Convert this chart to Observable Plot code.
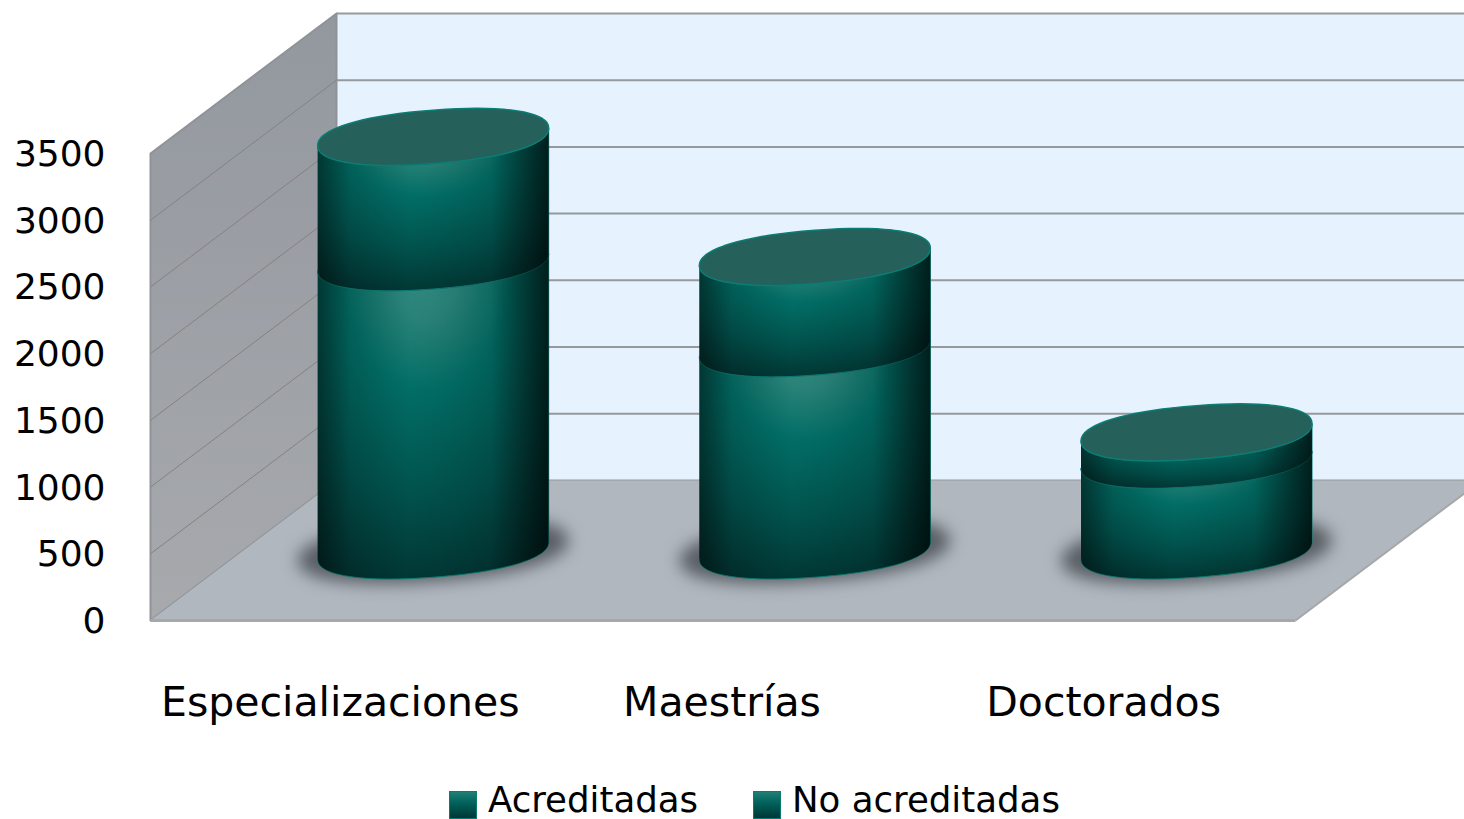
<!DOCTYPE html>
<html lang="es">
<head>
<meta charset="utf-8">
<script src="https://cdn.jsdelivr.net/npm/d3@7"></script>
<script src="https://cdn.jsdelivr.net/npm/@observablehq/plot@0.6"></script>
<style>
html,body{margin:0;padding:0;background:#fff;overflow:hidden;width:1464px;height:819px;}
svg{display:block;}
#legend{position:relative;height:49px;font-family:"DejaVu Sans",sans-serif;font-size:35.6px;color:#000;}
#legend span{position:absolute;white-space:nowrap;line-height:40px;top:10px;}
#legend i{position:absolute;top:21px;width:26px;height:26px;border:1px solid #0b7a72;background:linear-gradient(#1f8076,#00605a 45%,#013633);}
</style>
</head>
<body>
<div id="chart"></div>
<div id="legend"></div>
<script>
const categories = ["Especializaciones", "Maestrías", "Doctorados"];
const acreditadas = [2160, 1515, 680];
const noAcreditadas = [940, 685, 205];
const seriesNames = ["Acreditadas", "No acreditadas"];
const yTicks = [0, 500, 1000, 1500, 2000, 2500, 3000, 3500];

// Oblique projection: one unit of depth moves a point right and up, in data units
const depthX = 186 / 381.67, depthY = 140 / 0.1334;
const proj = (x, v, d) => ({x: x + d * depthX, y: v + d * depthY});

const ringX = 0.3026, ringTilt = 65, ringOpen = 200, round = 0.9;
const sp = (a) => Math.sign(a) * Math.abs(a) ** round;
const ring = (i, v, t, k = 1) => {
  const c = proj(i + 0.497, v, 0.5);
  const u = sp(Math.cos(t)), w = sp(Math.sin(t));
  return {x: c.x + k * ringX * u, y: c.y + k * (ringTilt * u + ringOpen * w)};
};
const steps = d3.range(0, 73);
const ellipse = (i, v, k, id) => steps.map((s) => ({...ring(i, v, (s / 72) * 2 * Math.PI, k), id}));
const side = (i, v0, v1, id) => [
  ...steps.map((s) => ({...ring(i, v0, Math.PI + (s / 72) * Math.PI), id})),
  ...steps.slice().reverse().map((s) => ({...ring(i, v1, Math.PI + (s / 72) * Math.PI), id}))
];

const shadows = categories.flatMap((c, i) => ellipse(i, 0, 1.17, "s" + i));
const sides = categories.flatMap((c, i) => [
  side(i, 0, acreditadas[i], "a" + i),
  side(i, acreditadas[i], acreditadas[i] + noAcreditadas[i], "b" + i)
]).flat();
const tops = categories.flatMap((c, i) => ellipse(i, acreditadas[i] + noAcreditadas[i], 1, "t" + i));

const poly = (pts) => pts.map((p) => proj(...p));
const leftWall = poly([[0, 0, 0], [0, 3500, 0], [0, 3500, 1], [0, 0, 1]]);
const backWall = poly([[0, 0, 1], [0, 3500, 1], [4, 3500, 1], [4, 0, 1]]);
const floor = poly([[0, 0, 0], [0, 0, 1], [3, 0, 1], [3, 0, 0]]);

const font = {fontFamily: "DejaVu Sans", fill: "#000"};

const chart = Plot.plot({
  width: 1464, height: 770,
  marginLeft: 150, marginRight: 169, marginTop: 153, marginBottom: 150,
  style: {background: "#fff", overflow: "hidden"},
  x: {domain: [0, 3], axis: null},
  y: {domain: [0, 3500], axis: null},
  marks: [
    Plot.line(backWall, {x: "x", y: "y", fill: "#e6f3fe", stroke: "none"}),
    Plot.link(yTicks, {
      x1: () => proj(0, 0, 1).x, x2: () => 4,
      y1: (v) => proj(0, v, 1).y, y2: (v) => proj(0, v, 1).y,
      stroke: "#96999c", strokeWidth: 2
    }),
    Plot.line(leftWall, {x: "x", y: "y", fill: "url(#wall)", stroke: "#8f9398", strokeWidth: 2, curve: "linear-closed"}),
    Plot.link(yTicks.slice(1, -1), {
      x1: () => 0, y1: (v) => v,
      x2: () => proj(0, 0, 1).x, y2: (v) => proj(0, v, 1).y,
      stroke: "#84827f", strokeWidth: 1
    }),
    Plot.line(floor, {x: "x", y: "y", fill: "#b0b7bf", stroke: "none"}),
    Plot.link([0], {
      x1: () => 0, y1: () => 0, x2: () => 3, y2: () => 0,
      stroke: "#a5a7a9", strokeWidth: 3
    }),
    Plot.link([0], {
      x1: () => 3, y1: () => 0, x2: () => proj(3, 0, 1).x, y2: () => proj(3, 0, 1).y,
      stroke: "#a5a7a9", strokeWidth: 2
    }),
    Plot.line(shadows, {x: "x", y: "y", z: "id", fill: "#44484d", fillOpacity: 0.8, stroke: "none", imageFilter: "blur(8px)"}),
    Plot.line(sides, {x: "x", y: "y", z: "id", fill: "url(#body)", stroke: "#0b7a72", strokeWidth: 1}),
    Plot.line(sides, {x: "x", y: "y", z: "id", fill: "url(#edges)", stroke: "none"}),
    Plot.line(tops, {x: "x", y: "y", z: "id", fill: "#26605b", stroke: "#0a7d74", strokeWidth: 1.5}),
    Plot.axisY({ticks: yTicks, tickFormat: d3.format("d"), tickSize: 0, tickPadding: 45, label: null, fontSize: 36, dy: 1, ...font}),
    Plot.axisX({ticks: [0.5, 1.5, 2.5], tickFormat: (d) => categories[Math.floor(d)], tickSize: 0, tickPadding: 66, label: null, fontSize: 41, dx: -1, ...font})
  ]
});

chart.insertAdjacentHTML("afterbegin", `<defs>
  <linearGradient id="wall" x1="0" y1="0" x2="0" y2="1">
    <stop offset="0" stop-color="#93989f"/><stop offset="1" stop-color="#a7a9ad"/>
  </linearGradient>
  <radialGradient id="body" cx="0.47" cy="0.06" r="1" fx="0.47" fy="0.06">
    <stop offset="0" stop-color="#308c82"/><stop offset="0.14" stop-color="#2a8379"/><stop offset="0.36" stop-color="#016e66"/>
    <stop offset="0.68" stop-color="#01524d"/><stop offset="1" stop-color="#01312f"/>
  </radialGradient>
  <linearGradient id="edges" x1="0" y1="0" x2="1" y2="0">
    <stop offset="0" stop-color="#000" stop-opacity="0.45"/><stop offset="0.14" stop-color="#000" stop-opacity="0.12"/>
    <stop offset="0.4" stop-color="#000" stop-opacity="0"/><stop offset="0.75" stop-color="#000" stop-opacity="0.1"/>
    <stop offset="1" stop-color="#000" stop-opacity="0.68"/>
  </linearGradient>
</defs>`);
document.getElementById("chart").append(chart);

const legend = document.getElementById("legend");
[[449, 488], [753, 792]].forEach(([sx, tx], i) => {
  const sw = document.createElement("i"); sw.style.left = sx + "px"; legend.append(sw);
  const t = document.createElement("span"); t.style.left = tx + "px"; t.textContent = seriesNames[i]; legend.append(t);
});
</script>
</body>
</html>
